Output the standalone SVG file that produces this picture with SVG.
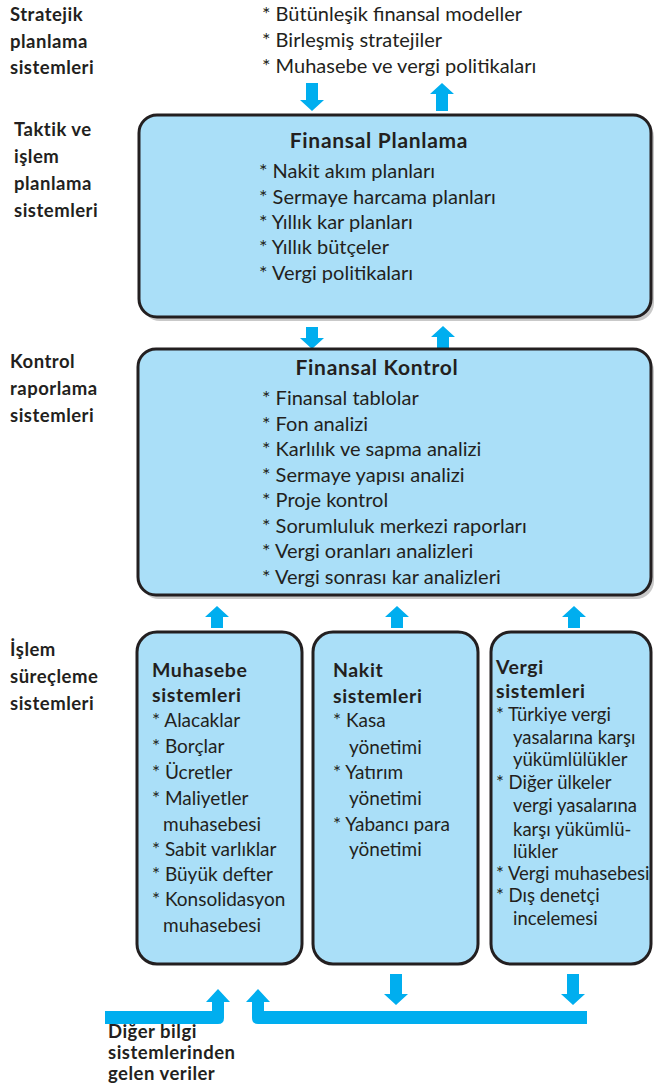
<svg xmlns="http://www.w3.org/2000/svg" width="654" height="1086" viewBox="0 0 654 1086">
<style>
.t{font-family:Lato,"Noto Sans","Liberation Sans",sans-serif;font-size:20px;fill:#231f20}
.s{font-size:19px}
.v{font-size:18.5px}
.l{font-family:Lato,"Noto Sans","Liberation Sans",sans-serif;font-size:18.5px;font-weight:bold;letter-spacing:0.5px;fill:#231f20}
.h{font-family:Lato,"Noto Sans","Liberation Sans",sans-serif;font-size:21px;font-weight:bold;letter-spacing:0.7px;fill:#231f20}
.hs{font-family:Lato,"Noto Sans","Liberation Sans",sans-serif;font-size:19.5px;font-weight:bold;letter-spacing:0.6px;fill:#231f20}
.box{fill:#aadff8;stroke:#231f20;stroke-width:3}
.sh{fill:#c9c9c9}
.ar{fill:#00aeef}
</style>
<rect width="654" height="1086" fill="#fff"/>
<g id="labels">
<text class="l" x="10" y="21">Stratejik</text>
<text class="l" x="10" y="48">planlama</text>
<text class="l" x="10" y="74">sistemleri</text>
<text class="l" x="14" y="136">Taktik ve</text>
<text class="l" x="14" y="163">işlem</text>
<text class="l" x="14" y="190">planlama</text>
<text class="l" x="14" y="217">sistemleri</text>
<text class="l" x="10" y="368">Kontrol</text>
<text class="l" x="10" y="395">raporlama</text>
<text class="l" x="10" y="422">sistemleri</text>
<text class="l" x="10" y="656">İşlem</text>
<text class="l" x="10" y="683">süreçleme</text>
<text class="l" x="10" y="710">sistemleri</text>
<text class="l" x="108" y="1038">Diğer bilgi</text>
<text class="l" x="108" y="1059">sistemlerinden</text>
<text class="l" x="108" y="1080">gelen veriler</text>
</g>
<g id="strategic">
<text class="t" x="262" y="21">* Bütünleşik finansal modeller</text>
<text class="t" x="262" y="47">* Birleşmiş stratejiler</text>
<text class="t" x="262" y="73">* Muhasebe ve vergi politikaları</text>
</g>
<g id="connectors">
<polygon class="ar" points="306,83 318,83 318,100 324,100 312,111 300,100 306,100"/>
<polygon class="ar" points="436,111 448,111 448,94 454,94 442,83 430,94 436,94"/>
<polygon class="ar" points="306,327 318,327 318,338 324,338 312,349 300,338 306,338"/>
<polygon class="ar" points="437,348 449,348 449,337 455,337 443,326 431,337 437,337"/>
<polygon class="ar" points="211,628 223,628 223,617 229,617 217,606 205,617 211,617"/>
<polygon class="ar" points="391,628 403,628 403,617 409,617 397,606 385,617 391,617"/>
<polygon class="ar" points="568,628 580,628 580,617 586,617 574,606 562,617 568,617"/>
<polygon class="ar" points="390,974 402,974 402,994 408,994 396,1005 384,994 390,994"/>
<polygon class="ar" points="567,974 579,974 579,994 585,994 573,1005 561,994 567,994"/>
<path class="ar" d="M105,1011 H212 V1002 H206 L218,989 L230,1002 H224 V1018 Q224,1024 218,1024 H105 Z"/>
<path class="ar" d="M587,1011 H264 V1002 H270 L258,989 L246,1002 H252 V1018 Q252,1024 258,1024 H587 Z"/>
</g>
<g id="planlama">
<rect class="sh" x="142" y="119" width="512" height="202" rx="18"/>
<rect class="box" x="139" y="115" width="512" height="202" rx="18"/>
<text class="h" x="379" y="148" text-anchor="middle">Finansal Planlama</text>
<text class="t" x="259" y="178">* Nakit akım planları</text>
<text class="t" x="259" y="204">* Sermaye harcama planları</text>
<text class="t" x="259" y="229">* Yıllık kar planları</text>
<text class="t" x="259" y="254">* Yıllık bütçeler</text>
<text class="t" x="259" y="280">* Vergi politikaları</text>
</g>
<g id="kontrol">
<rect class="sh" x="141" y="353" width="513" height="246" rx="18"/>
<rect class="box" x="138" y="349" width="513" height="246" rx="18"/>
<text class="h" x="377" y="375" text-anchor="middle">Finansal Kontrol</text>
<text class="t" x="262" y="405">* Finansal tablolar</text>
<text class="t" x="262" y="431">* Fon analizi</text>
<text class="t" x="262" y="456">* Karlılık ve sapma analizi</text>
<text class="t" x="262" y="482">* Sermaye yapısı analizi</text>
<text class="t" x="262" y="507">* Proje kontrol</text>
<text class="t" x="262" y="533">* Sorumluluk merkezi raporları</text>
<text class="t" x="262" y="558">* Vergi oranları analizleri</text>
<text class="t" x="262" y="584">* Vergi sonrası kar analizleri</text>
</g>
<g id="muhasebe">
<rect class="box" x="137" y="632" width="165" height="332" rx="20"/>
<text class="hs" x="152" y="677">Muhasebe</text>
<text class="hs" x="152" y="702">sistemleri</text>
<text class="t s" x="152" y="727">* Alacaklar</text>
<text class="t s" x="152" y="753">* Borçlar</text>
<text class="t s" x="152" y="779">* Ücretler</text>
<text class="t s" x="152" y="805">* Maliyetler</text>
<text class="t s" x="163" y="831">muhasebesi</text>
<text class="t s" x="152" y="856">* Sabit varlıklar</text>
<text class="t s" x="152" y="881">* Büyük defter</text>
<text class="t s" x="152" y="906">* Konsolidasyon</text>
<text class="t s" x="163" y="932">muhasebesi</text>
</g>
<g id="nakit">
<rect class="box" x="313" y="632" width="165" height="332" rx="20"/>
<text class="hs" x="333" y="677">Nakit</text>
<text class="hs" x="333" y="703">sistemleri</text>
<text class="t s" x="333" y="727">* Kasa</text>
<text class="t s" x="349" y="754">yönetimi</text>
<text class="t s" x="333" y="779">* Yatırım</text>
<text class="t s" x="349" y="805">yönetimi</text>
<text class="t s" x="333" y="831">* Yabancı para</text>
<text class="t s" x="349" y="856">yönetimi</text>
</g>
<g id="vergi">
<rect class="box" x="491" y="632" width="160" height="332" rx="20"/>
<text class="hs" x="496" y="674">Vergi</text>
<text class="hs" x="496" y="698">sistemleri</text>
<text class="t v" x="496" y="721">* Türkiye vergi</text>
<text class="t v" x="513" y="744">yasalarına karşı</text>
<text class="t v" x="513" y="766">yükümlülükler</text>
<text class="t v" x="496" y="789">* Diğer ülkeler</text>
<text class="t v" x="513" y="812">vergi yasalarına</text>
<text class="t v" x="513" y="836">karşı yükümlü-</text>
<text class="t v" x="513" y="858">lükler</text>
<text class="t v" x="496" y="880">* Vergi muhasebesi</text>
<text class="t v" x="496" y="902">* Dış denetçi</text>
<text class="t v" x="513" y="925">incelemesi</text>
</g>
</svg>
